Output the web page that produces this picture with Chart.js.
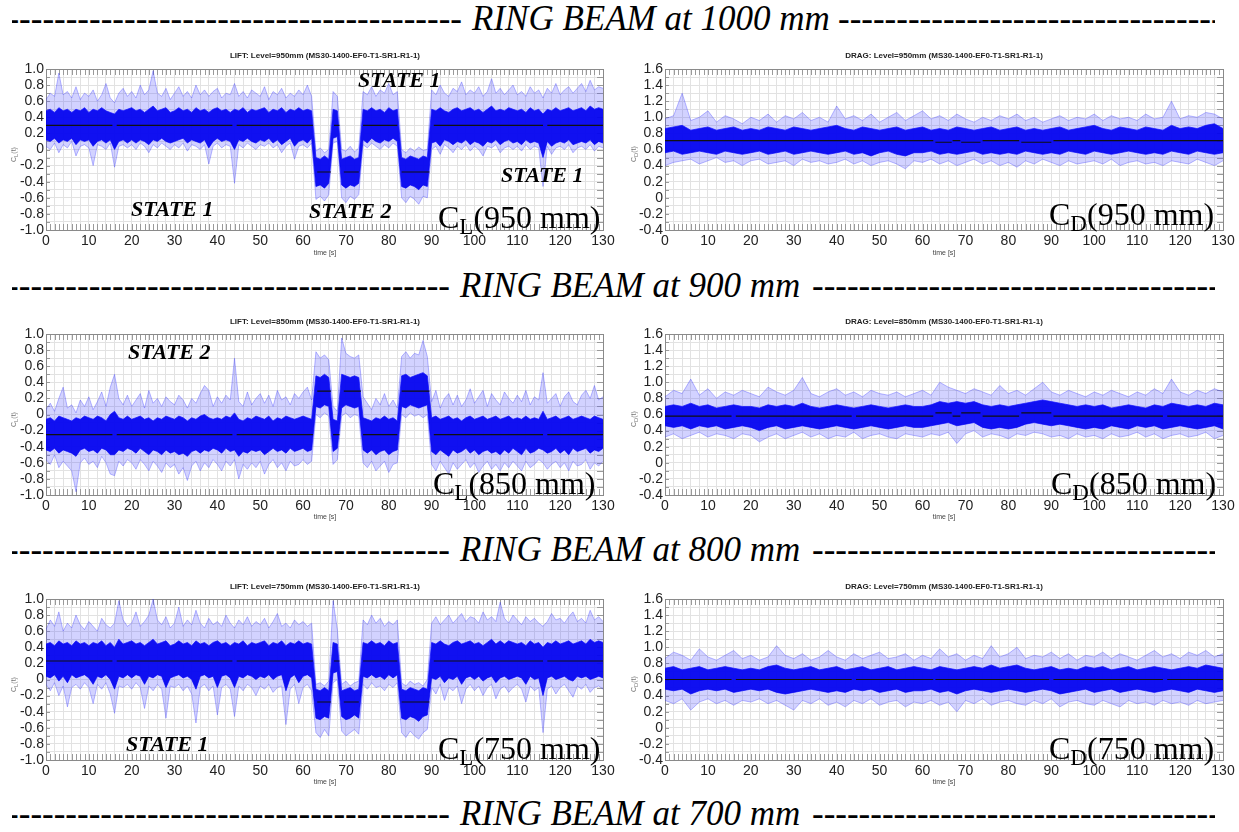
<!DOCTYPE html>
<html>
<head>
<meta charset="utf-8">
<script src="https://cdn.jsdelivr.net/npm/chart.js@4.4.1/dist/chart.umd.min.js"></script>
<style>
  html, body { margin: 0; padding: 0; background: #fff; }
  #page { position: relative; width: 1239px; height: 832px; overflow: hidden; }
  canvas { position: absolute; }
  .hdr { position: absolute; font: italic 35px "Liberation Serif", "Times New Roman", serif; line-height: 1; white-space: nowrap; color: #000; }
  .dash { position: absolute; overflow: hidden; white-space: nowrap; font: italic 35px "Liberation Serif", serif; line-height: 1; }
  .dash.l { direction: rtl; }
  .ttl { position: absolute; font: bold 8px "Liberation Sans", Arial, sans-serif; color: #222; white-space: nowrap; transform: translateX(-50%); line-height: 1; }
  .xt { position: absolute; font: 7px "Liberation Sans", Arial, sans-serif; color: #444; white-space: nowrap; transform: translateX(-50%); line-height: 1; }
  .yt { position: absolute; font: 7px "Liberation Sans", Arial, sans-serif; color: #777; white-space: nowrap; transform: rotate(-90deg); transform-origin: left top; line-height: 1; }
  .st { position: absolute; font: bold italic 22px "Liberation Serif", "Times New Roman", serif; line-height: 1; white-space: nowrap; }
  .cc { position: absolute; font: 32px "Liberation Serif", "Times New Roman", serif; line-height: 1; white-space: nowrap; }
  .cc sub { font-size: 0.72em; vertical-align: -0.28em; line-height: 0; }
</style>
</head>
<body>
<div id="page">
  <!-- section headers -->
  <div class="dash l" style="left:12px;top:1px;width:450px"></div>
  <div class="hdr" style="left:472px;top:1px">RING BEAM at 1000 mm</div>
  <div class="dash" style="left:838px;top:1px;width:377px"></div>

  <div class="dash l" style="left:12px;top:268px;width:438px"></div>
  <div class="hdr" style="left:460px;top:268px">RING BEAM at 900 mm</div>
  <div class="dash" style="left:812px;top:268px;width:403px"></div>

  <div class="dash l" style="left:12px;top:532px;width:438px"></div>
  <div class="hdr" style="left:460px;top:532px">RING BEAM at 800 mm</div>
  <div class="dash" style="left:812px;top:532px;width:403px"></div>

  <div class="dash l" style="left:12px;top:796px;width:438px"></div>
  <div class="hdr" style="left:460px;top:796px">RING BEAM at 700 mm</div>
  <div class="dash" style="left:812px;top:796px;width:403px"></div>

  <!-- row 1 -->
  <canvas id="cl950" width="620" height="210" style="left:0;top:50px"></canvas>
  <canvas id="cd950" width="620" height="210" style="left:620px;top:50px"></canvas>
  <!-- row 2 -->
  <canvas id="cl850" width="620" height="210" style="left:0;top:315px"></canvas>
  <canvas id="cd850" width="620" height="210" style="left:620px;top:315px"></canvas>
  <!-- row 3 -->
  <canvas id="cl750" width="620" height="210" style="left:0;top:580px"></canvas>
  <canvas id="cd750" width="620" height="210" style="left:620px;top:580px"></canvas>

  <div class="ttl" style="left:325px;top:52px">LIFT: Level=950mm (MS30-1400-EF0-T1-SR1-R1-1)</div>
  <div class="ttl" style="left:944px;top:52px">DRAG: Level=950mm (MS30-1400-EF0-T1-SR1-R1-1)</div>
  <div class="ttl" style="left:325px;top:318px">LIFT: Level=850mm (MS30-1400-EF0-T1-SR1-R1-1)</div>
  <div class="ttl" style="left:944px;top:318px">DRAG: Level=850mm (MS30-1400-EF0-T1-SR1-R1-1)</div>
  <div class="ttl" style="left:325px;top:583px">LIFT: Level=750mm (MS30-1400-EF0-T1-SR1-R1-1)</div>
  <div class="ttl" style="left:944px;top:583px">DRAG: Level=750mm (MS30-1400-EF0-T1-SR1-R1-1)</div>

  <div class="xt" style="left:325px;top:249px">time [s]</div>
  <div class="xt" style="left:944px;top:249px">time [s]</div>
  <div class="xt" style="left:325px;top:513px">time [s]</div>
  <div class="xt" style="left:944px;top:513px">time [s]</div>
  <div class="xt" style="left:325px;top:778px">time [s]</div>
  <div class="xt" style="left:944px;top:778px">time [s]</div>

  <div class="yt" style="left:10px;top:162px">C<sub>L</sub>(t)</div>
  <div class="yt" style="left:630px;top:162px">C<sub>D</sub>(t)</div>
  <div class="yt" style="left:10px;top:427px">C<sub>L</sub>(t)</div>
  <div class="yt" style="left:630px;top:427px">C<sub>D</sub>(t)</div>
  <div class="yt" style="left:10px;top:692px">C<sub>L</sub>(t)</div>
  <div class="yt" style="left:630px;top:692px">C<sub>D</sub>(t)</div>

  <div class="st" style="left:131px;top:198px">STATE 1</div>
  <div class="st" style="left:309px;top:200px">STATE 2</div>
  <div class="st" style="left:358px;top:69px">STATE 1</div>
  <div class="st" style="left:501px;top:164px">STATE 1</div>
  <div class="st" style="left:128px;top:341px">STATE 2</div>
  <div class="st" style="left:126px;top:733px">STATE 1</div>

  <div class="cc" style="left:438px;top:201px">C<sub>L</sub>(950 mm)</div>
  <div class="cc" style="left:1049px;top:198px">C<sub>D</sub>(950 mm)</div>
  <div class="cc" style="left:433px;top:467px">C<sub>L</sub>(850 mm)</div>
  <div class="cc" style="left:1051px;top:467px">C<sub>D</sub>(850 mm)</div>
  <div class="cc" style="left:438px;top:732px">C<sub>L</sub>(750 mm)</div>
  <div class="cc" style="left:1049px;top:732px">C<sub>D</sub>(750 mm)</div>
</div>

<script>
// time grids (s): lift read every 1 s, drag every 2 s
const T_LIFT = [];
for (let t = 0; t <= 130; t++) T_LIFT.push(t);
const T_DRAG = [];
for (let t = 0; t <= 130; t += 2) T_DRAG.push(t);

// ---- LIFT 950 mm: outer envelope, dense core, mean segments [start, end, value]
const L950_HI = [
  0.62,0.70,0.66,0.95,0.68,0.72,0.64,0.78,0.62,0.70,
  0.66,0.74,0.60,0.68,0.82,0.64,0.58,0.70,0.76,0.66,
  0.72,0.64,0.80,0.68,0.74,0.98,0.70,0.66,0.76,0.62,
  0.70,0.78,0.66,0.72,0.64,0.80,0.68,0.74,0.66,0.72,
  0.76,0.64,0.70,0.68,0.82,0.66,0.72,0.64,0.74,0.70,
  0.66,0.78,0.62,0.72,0.68,0.76,0.64,0.70,0.66,0.74,
  0.68,0.80,0.66,
  -0.02,0.02,-0.04,0.00,
  0.72,0.66,
  0.00,-0.02,0.04,-0.03,0.02,
  0.72,0.68,0.78,0.66,0.74,0.70,0.82,0.68,0.72,
  0.00,-0.04,0.02,-0.02,0.03,-0.01,0.00,
  0.74,0.68,0.80,0.70,0.66,0.76,0.72,0.84,0.68,0.74,
  0.70,0.78,0.66,0.72,0.88,0.70,0.76,0.68,0.74,0.80,
  0.68,0.72,0.66,0.78,0.70,0.74,0.64,0.76,0.70,0.82,
  0.68,0.74,0.78,0.70,0.76,0.82,0.72,0.86,0.74,0.78,
  0.76];
const L950_LO = [
  0.04,0.00,0.08,-0.04,0.06,0.02,0.10,-0.08,0.04,0.06,
  0.02,-0.20,0.06,0.04,0.00,0.08,-0.22,0.04,0.06,0.02,
  0.06,0.00,0.08,0.04,-0.04,0.06,0.02,0.08,0.04,0.00,
  0.06,0.02,0.08,-0.02,0.06,0.04,0.00,0.06,-0.18,0.04,
  0.08,0.02,0.06,0.04,-0.42,0.06,0.02,0.08,0.04,0.00,
  0.06,0.04,0.08,0.02,0.06,-0.04,0.04,0.08,-0.12,0.04,
  0.06,0.02,0.08,
  -0.62,-0.58,-0.64,-0.56,
  0.08,0.10,
  -0.60,-0.66,-0.58,-0.62,-0.56,
  0.06,0.02,0.08,0.04,0.00,0.06,0.02,0.08,0.04,
  -0.60,-0.66,-0.58,-0.62,-0.68,-0.58,-0.60,
  0.00,0.04,-0.06,0.06,0.02,-0.04,0.04,0.00,0.06,-0.02,
  0.04,0.00,-0.08,0.04,0.02,0.06,-0.04,0.02,0.04,0.00,
  0.04,-0.02,0.06,0.00,0.04,0.02,-0.46,0.04,-0.06,0.02,
  0.04,0.00,0.06,-0.04,0.02,0.04,0.00,0.06,-0.02,0.04,
  0.02];
const L950_CHI = [
  0.48,0.50,0.46,0.52,0.48,0.50,0.46,0.50,0.48,0.52,
  0.46,0.50,0.48,0.52,0.48,0.46,0.44,0.50,0.48,0.50,
  0.52,0.48,0.50,0.46,0.50,0.54,0.48,0.50,0.52,0.46,
  0.48,0.52,0.48,0.50,0.46,0.52,0.48,0.50,0.46,0.50,
  0.52,0.48,0.50,0.46,0.50,0.48,0.52,0.46,0.50,0.48,
  0.50,0.52,0.46,0.50,0.48,0.52,0.46,0.50,0.48,0.52,
  0.48,0.50,0.48,
  -0.10,-0.12,-0.08,-0.12,
  0.50,0.48,
  -0.12,-0.10,-0.08,-0.12,-0.10,
  0.50,0.48,0.52,0.48,0.50,0.46,0.52,0.48,0.50,
  -0.10,-0.12,-0.08,-0.10,-0.12,-0.08,-0.10,
  0.50,0.48,0.52,0.48,0.46,0.50,0.52,0.48,0.50,0.52,
  0.48,0.50,0.46,0.50,0.54,0.48,0.50,0.48,0.52,0.50,
  0.48,0.50,0.46,0.52,0.48,0.50,0.44,0.50,0.48,0.52,
  0.48,0.50,0.52,0.48,0.50,0.52,0.48,0.54,0.50,0.52,
  0.50];
const L950_CLO = [
  0.12,0.10,0.14,0.08,0.12,0.10,0.14,0.06,0.12,0.10,
  0.12,0.04,0.10,0.12,0.08,0.12,0.00,0.10,0.12,0.08,
  0.12,0.08,0.12,0.10,0.06,0.12,0.10,0.14,0.10,0.08,
  0.10,0.12,0.14,0.08,0.12,0.10,0.08,0.12,0.02,0.10,
  0.14,0.10,0.12,0.10,0.00,0.12,0.10,0.14,0.10,0.08,
  0.12,0.10,0.14,0.08,0.12,0.06,0.10,0.14,0.04,0.10,
  0.12,0.08,0.14,
  -0.46,-0.44,-0.48,-0.42,
  0.14,0.16,
  -0.44,-0.48,-0.44,-0.46,-0.42,
  0.12,0.08,0.14,0.10,0.08,0.12,0.10,0.14,0.10,
  -0.46,-0.48,-0.44,-0.46,-0.50,-0.44,-0.46,
  0.08,0.10,0.04,0.12,0.10,0.06,0.10,0.08,0.12,0.06,
  0.10,0.08,0.04,0.10,0.08,0.12,0.06,0.10,0.12,0.08,
  0.10,0.06,0.12,0.08,0.10,0.08,-0.10,0.10,0.04,0.08,
  0.10,0.08,0.12,0.06,0.08,0.10,0.08,0.12,0.06,0.10,
  0.08];
const L950_MEAN = [[0,15.5,0.30],[16.5,43.5,0.30],[44.5,62.3,0.30],[63.3,66.5,-0.28],[67.2,68.5,0.30],
  [69.5,73,-0.28],[74,82,0.30],[83,89.5,-0.28],[90.5,116,0.30],[117,130,0.30]];

// ---- LIFT 850 mm
const L850_HI = [
  0.06,0.14,0.04,0.20,0.34,0.08,0.12,0.02,0.18,0.10,
  0.22,0.06,0.16,0.28,0.10,0.34,0.50,0.20,0.12,0.24,
  0.10,0.18,0.26,0.08,0.30,0.14,0.20,0.10,0.22,0.16,
  0.12,0.24,0.18,0.08,0.20,0.14,0.26,0.36,0.30,0.10,
  0.22,0.14,0.24,0.18,0.70,0.16,0.10,0.28,0.12,0.20,
  0.26,0.14,0.24,0.10,0.30,0.18,0.22,0.12,0.26,0.20,
  0.28,0.34,0.18,
  0.78,0.70,0.74,0.68,
  0.10,0.04,
  0.95,0.76,0.72,0.70,0.74,
  0.22,0.14,0.06,0.20,0.12,0.26,0.10,0.18,0.08,
  0.72,0.78,0.70,0.76,0.74,0.92,0.72,
  0.16,0.30,0.08,0.20,0.26,0.12,0.24,0.10,0.18,0.32,
  0.14,0.22,0.30,0.10,0.26,0.18,0.12,0.28,0.20,0.14,
  0.24,0.16,0.30,0.12,0.22,0.18,0.52,0.14,0.20,0.26,
  0.10,0.22,0.28,0.16,0.12,0.24,0.30,0.20,0.36,0.18,
  0.22];
const L850_LO = [
  -0.56,-0.62,-0.50,-0.66,-0.58,-0.64,-0.70,-0.96,-0.60,-0.54,
  -0.62,-0.58,-0.66,-0.52,-0.60,-0.74,-0.76,-0.58,-0.64,-0.56,
  -0.60,-0.68,-0.56,-0.62,-0.70,-0.58,-0.64,-0.72,-0.60,-0.66,
  -0.62,-0.74,-0.66,-0.82,-0.64,-0.58,-0.70,-0.60,-0.66,-0.56,
  -0.62,-0.70,-0.58,-0.64,-0.56,-0.80,-0.62,-0.68,-0.60,-0.66,
  -0.58,-0.74,-0.62,-0.56,-0.66,-0.60,-0.70,-0.58,-0.64,-0.62,
  -0.56,-0.62,-0.58,
  0.00,-0.04,0.02,-0.02,
  -0.62,-0.56,
  -0.02,0.02,-0.04,0.00,-0.02,
  -0.60,-0.66,-0.58,-0.70,-0.64,-0.58,-0.72,-0.62,-0.60,
  0.00,-0.04,0.02,-0.02,0.00,-0.04,0.00,
  -0.62,-0.70,-0.58,-0.66,-0.74,-0.60,-0.68,-0.62,-0.56,-0.66,
  -0.60,-0.72,-0.64,-0.58,-0.68,-0.62,-0.70,-0.60,-0.66,-0.58,
  -0.64,-0.70,-0.58,-0.66,-0.62,-0.56,-0.60,-0.68,-0.62,-0.58,
  -0.66,-0.60,-0.70,-0.58,-0.64,-0.62,-0.56,-0.68,-0.60,-0.64,
  -0.58];
const L850_CHI = [
  -0.06,-0.04,-0.08,-0.02,-0.04,-0.06,-0.08,-0.04,-0.06,-0.02,
  -0.04,-0.06,-0.02,-0.04,-0.08,0.00,0.04,-0.04,-0.06,-0.02,
  -0.06,-0.04,-0.02,-0.06,-0.04,-0.08,-0.04,-0.06,-0.02,-0.04,
  -0.06,-0.02,-0.04,-0.08,-0.04,-0.06,-0.02,0.00,-0.04,-0.06,
  -0.04,-0.06,-0.02,-0.04,0.02,-0.06,-0.08,-0.04,-0.06,-0.02,
  -0.04,-0.06,-0.02,-0.08,-0.04,-0.06,-0.02,-0.04,-0.06,-0.04,
  -0.02,-0.04,-0.06,
  0.48,0.46,0.50,0.46,
  -0.06,-0.08,
  0.50,0.48,0.46,0.48,0.46,
  -0.04,-0.06,-0.08,-0.04,-0.06,-0.02,-0.06,-0.04,-0.08,
  0.48,0.50,0.46,0.48,0.50,0.52,0.48,
  -0.04,-0.02,-0.06,-0.04,-0.02,-0.06,-0.04,-0.08,-0.04,-0.02,
  -0.06,-0.04,-0.02,-0.06,-0.04,-0.02,-0.06,-0.04,-0.02,-0.06,
  -0.04,-0.06,-0.02,-0.06,-0.04,-0.06,0.04,-0.06,-0.04,-0.02,
  -0.06,-0.04,-0.02,-0.06,-0.04,-0.02,-0.04,-0.06,-0.02,-0.04,
  -0.06];
const L850_CLO = [
  -0.44,-0.46,-0.42,-0.48,-0.44,-0.46,-0.48,-0.52,-0.44,-0.42,
  -0.46,-0.44,-0.48,-0.42,-0.44,-0.50,-0.50,-0.44,-0.46,-0.42,
  -0.44,-0.48,-0.42,-0.46,-0.50,-0.44,-0.46,-0.50,-0.44,-0.48,
  -0.46,-0.50,-0.48,-0.52,-0.46,-0.44,-0.48,-0.44,-0.46,-0.42,
  -0.44,-0.48,-0.42,-0.46,-0.44,-0.52,-0.46,-0.48,-0.44,-0.46,
  -0.44,-0.50,-0.46,-0.42,-0.46,-0.44,-0.48,-0.42,-0.46,-0.44,
  -0.42,-0.46,-0.44,
  0.10,0.08,0.12,0.10,
  -0.46,-0.42,
  0.08,0.12,0.10,0.08,0.10,
  -0.44,-0.48,-0.44,-0.50,-0.46,-0.44,-0.50,-0.46,-0.44,
  0.10,0.08,0.12,0.10,0.08,0.10,0.12,
  -0.46,-0.50,-0.44,-0.48,-0.52,-0.44,-0.48,-0.46,-0.42,-0.48,
  -0.44,-0.50,-0.46,-0.44,-0.48,-0.46,-0.50,-0.44,-0.48,-0.42,
  -0.46,-0.50,-0.42,-0.48,-0.46,-0.42,-0.44,-0.48,-0.46,-0.42,
  -0.48,-0.44,-0.50,-0.42,-0.46,-0.44,-0.42,-0.48,-0.44,-0.46,
  -0.42];
const L850_MEAN = [[0,15.5,-0.25],[16.5,43.5,-0.25],[44.5,62.3,-0.25],[63.3,66.5,0.29],[67,68.5,-0.25],
  [69.5,73.5,0.29],[74,82,-0.25],[83,89.5,0.29],[90.5,116,-0.25],[117,130,-0.25]];

// ---- LIFT 750 mm
const L750_HI = [
  0.62,0.74,0.66,0.84,0.60,0.70,0.64,0.80,0.68,0.62,
  0.72,0.66,0.60,0.76,0.68,0.64,0.70,0.98,0.74,0.66,
  0.70,0.84,0.66,0.72,0.80,1.00,0.74,0.68,0.78,0.64,
  0.70,0.90,0.66,0.74,0.68,0.86,0.70,0.64,0.76,0.68,
  0.72,0.66,0.80,0.70,0.64,0.74,0.68,0.78,0.66,0.72,
  0.68,0.76,0.64,0.72,0.82,0.66,0.70,0.64,0.74,0.68,
  0.72,0.66,0.70,
  -0.06,-0.04,-0.08,-0.02,
  0.98,0.62,
  -0.06,-0.02,-0.08,-0.04,-0.02,
  0.74,0.68,0.80,0.70,0.76,0.66,0.72,0.68,0.74,
  -0.04,-0.08,-0.02,-0.06,-0.04,-0.08,0.00,
  0.70,0.78,0.68,0.74,0.80,0.70,0.76,0.82,0.72,0.78,
  0.76,0.70,0.84,0.74,0.78,0.72,0.96,0.76,0.70,0.80,
  0.74,0.68,0.78,0.72,0.76,0.70,0.66,0.72,0.82,0.74,
  0.76,0.70,0.78,0.84,0.72,0.76,0.70,0.86,0.74,0.78,
  0.72];
const L750_LO = [
  -0.06,-0.14,-0.04,-0.20,-0.08,-0.34,-0.10,-0.06,-0.12,-0.04,
  -0.10,-0.30,-0.06,-0.12,-0.04,-0.18,-0.42,-0.08,-0.10,-0.06,
  -0.12,-0.04,-0.10,-0.36,-0.08,-0.14,-0.06,-0.12,-0.48,-0.08,
  -0.10,-0.06,-0.14,-0.08,-0.18,-0.54,-0.10,-0.06,-0.14,-0.08,
  -0.44,-0.10,-0.06,-0.12,-0.46,-0.08,-0.14,-0.06,-0.10,-0.20,
  -0.08,-0.12,-0.06,-0.16,-0.10,-0.08,-0.56,-0.12,-0.06,-0.30,
  -0.10,-0.06,-0.14,
  -0.66,-0.72,-0.62,-0.70,
  -0.04,0.00,
  -0.64,-0.70,-0.66,-0.62,-0.68,
  -0.06,-0.12,-0.04,-0.10,-0.08,-0.14,-0.06,-0.10,-0.04,
  -0.66,-0.72,-0.64,-0.70,-0.74,-0.66,-0.62,
  -0.10,-0.18,-0.06,-0.26,-0.10,-0.14,-0.08,-0.30,-0.12,-0.06,
  -0.14,-0.08,-0.20,-0.10,-0.06,-0.24,-0.12,-0.08,-0.16,-0.10,
  -0.06,-0.12,-0.28,-0.08,-0.14,-0.10,-0.66,-0.12,-0.08,-0.18,
  -0.10,-0.06,-0.14,-0.22,-0.08,-0.12,-0.06,-0.16,-0.10,-0.08,
  -0.12];
const L750_CHI = [
  0.44,0.46,0.42,0.48,0.44,0.46,0.42,0.48,0.44,0.46,
  0.42,0.46,0.44,0.48,0.42,0.46,0.40,0.50,0.44,0.46,
  0.48,0.44,0.46,0.42,0.46,0.50,0.44,0.46,0.48,0.42,
  0.44,0.48,0.44,0.46,0.42,0.48,0.44,0.46,0.42,0.46,
  0.48,0.44,0.46,0.42,0.46,0.44,0.48,0.42,0.46,0.44,
  0.46,0.48,0.42,0.46,0.44,0.48,0.42,0.46,0.44,0.48,
  0.44,0.46,0.44,
  -0.12,-0.14,-0.10,-0.14,
  0.46,0.44,
  -0.14,-0.12,-0.10,-0.14,-0.12,
  0.46,0.44,0.48,0.44,0.46,0.42,0.48,0.44,0.46,
  -0.12,-0.14,-0.10,-0.12,-0.14,-0.10,-0.12,
  0.46,0.44,0.48,0.44,0.42,0.46,0.48,0.44,0.46,0.48,
  0.44,0.46,0.42,0.46,0.50,0.44,0.48,0.44,0.48,0.46,
  0.44,0.46,0.42,0.48,0.44,0.46,0.40,0.46,0.44,0.48,
  0.44,0.46,0.48,0.44,0.46,0.48,0.44,0.50,0.46,0.48,
  0.46];
const L750_CLO = [
  0.04,0.02,0.06,-0.02,0.04,-0.04,0.06,0.02,0.04,0.06,
  0.02,-0.06,0.04,0.02,0.06,0.00,-0.12,0.04,0.02,0.06,
  0.02,0.06,0.04,-0.06,0.04,0.02,0.06,0.04,-0.10,0.02,
  0.04,0.06,0.02,0.04,0.00,-0.12,0.04,0.06,0.02,0.04,
  -0.10,0.04,0.06,0.02,-0.10,0.04,0.02,0.06,0.04,0.00,
  0.04,0.02,0.06,0.00,0.04,0.06,-0.14,0.02,0.06,-0.04,
  0.04,0.06,0.02,
  -0.48,-0.50,-0.46,-0.48,
  0.08,0.10,
  -0.46,-0.50,-0.48,-0.44,-0.48,
  0.04,0.02,0.06,0.02,0.04,0.00,0.06,0.02,0.06,
  -0.48,-0.50,-0.46,-0.48,-0.52,-0.46,-0.44,
  0.02,0.00,0.04,-0.04,0.02,0.00,0.04,-0.06,0.02,0.04,
  0.00,0.04,-0.02,0.02,0.04,-0.04,0.02,0.04,0.00,0.02,
  0.04,0.02,-0.06,0.04,0.00,0.02,-0.20,0.02,0.04,0.00,
  0.02,0.04,0.00,-0.02,0.04,0.02,0.04,0.00,0.02,0.04,
  0.02];
const L750_MEAN = [[0,15.5,0.23],[16.5,43.5,0.23],[44.5,62.3,0.23],[63.3,66.5,-0.28],[67.2,68.5,0.23],
  [69.5,73,-0.28],[74,82,0.23],[83,89.5,-0.28],[90.5,116,0.23],[117,130,0.23]];

// ---- DRAG 950 mm (every 2 s)
const D950_HI = [
  0.98,1.02,1.30,0.96,1.00,1.08,0.94,1.02,0.98,0.92,
  1.00,0.96,1.04,0.94,1.02,0.98,1.06,0.96,1.00,0.94,
  1.14,0.98,1.02,0.96,1.04,0.94,1.00,1.06,0.96,1.02,
  1.08,0.98,1.02,0.96,1.04,0.98,0.94,1.00,0.96,1.02,
  0.98,1.04,0.96,1.00,0.94,0.98,1.02,0.96,1.00,0.98,
  1.04,0.96,1.02,0.98,1.00,0.96,1.04,0.98,1.00,1.20,
  0.98,1.02,1.00,1.06,1.04,0.98];
const D950_LO = [
  0.40,0.44,0.46,0.48,0.42,0.46,0.50,0.44,0.46,0.40,
  0.46,0.48,0.42,0.44,0.46,0.40,0.48,0.44,0.46,0.42,
  0.44,0.48,0.42,0.46,0.40,0.44,0.46,0.42,0.36,0.46,
  0.44,0.48,0.42,0.46,0.40,0.44,0.48,0.42,0.46,0.40,
  0.44,0.38,0.46,0.42,0.48,0.44,0.40,0.46,0.42,0.44,
  0.46,0.42,0.48,0.40,0.44,0.46,0.42,0.44,0.40,0.46,
  0.44,0.42,0.48,0.44,0.40,0.46];
const D950_CHI = [
  0.86,0.88,0.90,0.84,0.86,0.88,0.84,0.86,0.88,0.84,
  0.86,0.84,0.88,0.86,0.84,0.88,0.86,0.84,0.86,0.88,
  0.90,0.86,0.84,0.88,0.86,0.84,0.86,0.88,0.84,0.86,
  0.88,0.84,0.86,0.84,0.88,0.86,0.84,0.86,0.88,0.84,
  0.86,0.88,0.84,0.86,0.84,0.86,0.88,0.84,0.86,0.88,
  0.90,0.86,0.84,0.88,0.86,0.84,0.88,0.86,0.84,0.90,
  0.86,0.88,0.86,0.90,0.92,0.86];
const D950_CLO = [
  0.56,0.58,0.54,0.56,0.58,0.56,0.54,0.58,0.56,0.54,
  0.56,0.58,0.54,0.56,0.58,0.54,0.56,0.58,0.56,0.54,
  0.56,0.58,0.54,0.56,0.52,0.56,0.58,0.54,0.52,0.56,
  0.56,0.58,0.54,0.56,0.54,0.56,0.58,0.54,0.56,0.54,
  0.56,0.54,0.58,0.56,0.54,0.56,0.54,0.58,0.56,0.54,
  0.58,0.56,0.54,0.56,0.58,0.56,0.54,0.56,0.54,0.58,
  0.56,0.54,0.58,0.56,0.54,0.56];
const D950_MEAN = [[0,62.5,0.71],[63,66.8,0.69],[67,68.8,0.71],[69,73.5,0.69],[74,82.5,0.71],
  [83,90,0.69],[90.5,130,0.71]];

// ---- DRAG 850 mm
const D850_HI = [
  0.82,0.90,0.86,1.04,0.84,0.92,0.80,0.88,0.84,0.90,
  0.86,0.82,0.94,0.88,0.84,0.90,1.06,0.86,0.82,0.88,
  0.92,0.84,0.88,0.82,0.90,0.86,0.84,0.88,0.82,0.86,
  0.90,0.84,1.00,0.94,0.90,0.86,0.92,0.88,0.84,0.96,
  0.86,0.90,0.84,0.92,1.00,0.88,0.84,0.90,0.86,0.82,
  0.88,0.84,0.90,0.86,0.82,0.88,0.84,0.92,0.86,1.04,
  0.88,0.84,0.90,0.86,0.92,0.88];
const D850_LO = [
  0.32,0.36,0.30,0.34,0.38,0.32,0.36,0.34,0.30,0.36,
  0.34,0.26,0.32,0.36,0.30,0.34,0.38,0.32,0.36,0.30,
  0.34,0.32,0.38,0.30,0.34,0.36,0.32,0.30,0.36,0.34,
  0.32,0.36,0.34,0.38,0.24,0.36,0.40,0.32,0.36,0.34,
  0.30,0.36,0.34,0.38,0.36,0.32,0.34,0.30,0.36,0.32,
  0.34,0.30,0.36,0.32,0.34,0.38,0.32,0.36,0.30,0.34,
  0.36,0.32,0.34,0.38,0.30,0.34];
const D850_CHI = [
  0.70,0.72,0.70,0.74,0.70,0.72,0.68,0.70,0.72,0.70,
  0.70,0.68,0.72,0.70,0.72,0.70,0.74,0.70,0.68,0.70,
  0.72,0.70,0.68,0.70,0.72,0.70,0.68,0.70,0.72,0.70,
  0.70,0.72,0.76,0.74,0.76,0.74,0.76,0.72,0.70,0.72,
  0.70,0.72,0.74,0.76,0.78,0.76,0.74,0.72,0.70,0.72,
  0.70,0.72,0.68,0.70,0.72,0.70,0.68,0.72,0.70,0.74,
  0.72,0.70,0.72,0.70,0.74,0.72];
const D850_CLO = [
  0.46,0.44,0.46,0.42,0.46,0.44,0.46,0.42,0.44,0.46,
  0.44,0.40,0.44,0.46,0.42,0.44,0.46,0.44,0.42,0.44,
  0.46,0.44,0.42,0.44,0.46,0.44,0.42,0.44,0.46,0.44,
  0.44,0.46,0.48,0.50,0.46,0.48,0.50,0.44,0.42,0.44,
  0.42,0.44,0.48,0.50,0.48,0.46,0.48,0.46,0.44,0.42,
  0.44,0.42,0.46,0.44,0.42,0.46,0.44,0.46,0.42,0.44,
  0.46,0.44,0.42,0.44,0.46,0.42];
const D850_MEAN = [[0,15.5,0.58],[16.5,43.5,0.58],[44.5,62.5,0.58],[63,66.8,0.62],[67,68.8,0.58],
  [69,73.5,0.62],[74,82.5,0.58],[83,90,0.62],[90.5,116,0.58],[117,130,0.58]];

// ---- DRAG 750 mm
const D750_HI = [
  0.86,0.94,0.90,0.84,0.98,0.88,0.84,0.90,0.96,0.86,
  0.90,0.84,0.88,1.02,0.90,0.86,0.92,0.84,0.88,0.96,
  0.88,0.84,0.92,0.86,0.90,0.94,0.86,0.88,0.92,0.84,
  0.90,0.86,0.98,0.88,0.92,0.84,0.90,0.86,1.02,0.88,
  0.92,1.00,0.86,0.90,0.88,0.94,0.86,0.92,0.84,0.90,
  0.88,0.94,0.86,0.92,0.88,0.84,0.90,0.96,0.88,0.92,
  0.86,0.94,0.90,0.96,0.88,0.92];
const D750_LO = [
  0.34,0.30,0.36,0.22,0.32,0.36,0.30,0.34,0.28,0.34,
  0.32,0.36,0.30,0.34,0.28,0.22,0.34,0.30,0.36,0.28,
  0.32,0.26,0.34,0.30,0.36,0.28,0.32,0.34,0.26,0.32,
  0.30,0.34,0.28,0.32,0.20,0.34,0.30,0.36,0.28,0.32,
  0.34,0.30,0.28,0.34,0.30,0.36,0.26,0.32,0.34,0.30,
  0.28,0.34,0.30,0.26,0.34,0.30,0.32,0.28,0.34,0.30,
  0.32,0.28,0.34,0.30,0.32,0.34];
const D750_CHI = [
  0.74,0.76,0.72,0.74,0.76,0.72,0.74,0.76,0.74,0.72,
  0.74,0.72,0.76,0.78,0.74,0.72,0.74,0.76,0.72,0.74,
  0.76,0.72,0.74,0.76,0.72,0.74,0.76,0.72,0.74,0.76,
  0.74,0.72,0.76,0.74,0.72,0.74,0.76,0.74,0.78,0.74,
  0.76,0.78,0.74,0.72,0.74,0.76,0.72,0.74,0.72,0.76,
  0.74,0.76,0.72,0.74,0.76,0.72,0.74,0.76,0.74,0.72,
  0.74,0.76,0.74,0.78,0.76,0.74];
const D750_CLO = [
  0.48,0.46,0.48,0.42,0.46,0.48,0.46,0.48,0.44,0.46,
  0.48,0.46,0.48,0.44,0.42,0.44,0.46,0.48,0.46,0.44,
  0.46,0.44,0.48,0.46,0.48,0.44,0.46,0.48,0.44,0.46,
  0.46,0.48,0.44,0.46,0.42,0.46,0.48,0.46,0.44,0.46,
  0.48,0.46,0.44,0.46,0.48,0.46,0.42,0.44,0.46,0.48,
  0.44,0.46,0.48,0.44,0.46,0.48,0.46,0.44,0.46,0.48,
  0.46,0.44,0.48,0.46,0.44,0.46];
const D750_MEAN = [[0,15.5,0.60],[16.5,43.5,0.60],[44.5,62.5,0.60],[63,89.5,0.60],[90.5,116,0.60],[117,130,0.60]];

const FONT = '"Liberation Sans", Arial, sans-serif';

// grey frame with small inner ticks on all four sides
const frameTicks = {
  id: 'frameTicks',
  beforeDatasetsDraw(chart) {
    const { ctx, chartArea: a, scales: { x, y } } = chart;
    ctx.save();
    ctx.strokeStyle = '#9a9a9a';
    ctx.lineWidth = 1;
    ctx.beginPath();
    for (let t = 0; t <= 130; t++) {
      const px = Math.round(x.getPixelForValue(t)) + 0.5;
      ctx.moveTo(px, a.top); ctx.lineTo(px, a.top + 6);
      ctx.moveTo(px, a.bottom); ctx.lineTo(px, a.bottom - 6);
    }
    for (let k = Math.round(y.min * 10); k <= Math.round(y.max * 10); k++) {
      const py = Math.round(y.getPixelForValue(k / 10)) + 0.5;
      ctx.moveTo(a.right, py); ctx.lineTo(a.right - 6, py);
      ctx.moveTo(a.left, py); ctx.lineTo(a.left + 4, py);
    }
    ctx.stroke();
    ctx.strokeStyle = '#8a8a8a';
    ctx.strokeRect(Math.round(a.left) + 0.5, Math.round(a.top) + 0.5, Math.round(a.right - a.left), Math.round(a.bottom - a.top));
    ctx.restore();
  }
};

function panel(id, t, hi, lo, chi, clo, mean, yMin, yMax, yW) {
  const xy = arr => arr.map((v, i) => ({ x: t[i], y: v }));
  const meanPts = [];
  mean.forEach(([a, b, v]) => meanPts.push({ x: a, y: v }, { x: b, y: v }, { x: b, y: null }));
  new Chart(document.getElementById(id), {
    type: 'line',
    data: {
      datasets: [
        { data: meanPts, borderColor: '#111', borderWidth: 1.1, spanGaps: false },
        { data: xy(chi), borderColor: 'rgba(20,20,255,0.75)', borderWidth: 1, fill: '+1', backgroundColor: 'rgba(0,0,240,0.92)' },
        { data: xy(clo), borderColor: 'rgba(20,20,255,0.75)', borderWidth: 1 },
        { data: xy(hi), borderColor: 'rgba(40,40,255,0.4)', borderWidth: 0.8, fill: '+1', backgroundColor: 'rgba(80,80,255,0.26)' },
        { data: xy(lo), borderColor: 'rgba(40,40,255,0.4)', borderWidth: 0.8 },
      ]
    },
    options: {
      responsive: false, animation: false, events: [],
      layout: { padding: { top: 19, right: 17, bottom: 0, left: 0 } },
      plugins: { legend: { display: false }, tooltip: { enabled: false } },
      elements: { point: { radius: 0 }, line: { tension: 0 } },
      scales: {
        x: {
          type: 'linear', min: 0, max: 130,
          afterFit: s => { s.height = 30; },
          ticks: { stepSize: 2, autoSkip: false, maxRotation: 0, padding: 3, color: '#222', font: { family: FONT, size: 14 },
            callback: v => (v % 10 === 0 ? String(v) : '') },
          grid: { color: '#e2e2e2', drawTicks: false },
          border: { color: '#8a8a8a' }
        },
        y: {
          min: yMin, max: yMax,
          afterFit: s => { s.width = yW; },
          ticks: { stepSize: 0.1, autoSkip: false, padding: 2, color: '#222', font: { family: FONT, size: 14 },
            callback: v => { const k = Math.round(v * 10); return k % 2 === 0 ? (k === 0 ? '0' : (k / 10).toFixed(1)) : ''; } },
          grid: { color: '#e2e2e2', drawTicks: false },
          border: { color: '#8a8a8a' }
        }
      }
    },
    plugins: [frameTicks]
  });
}

panel('cl950', T_LIFT, L950_HI, L950_LO, L950_CHI, L950_CLO, L950_MEAN, -1, 1, 46);
panel('cl850', T_LIFT, L850_HI, L850_LO, L850_CHI, L850_CLO, L850_MEAN, -1, 1, 46);
panel('cl750', T_LIFT, L750_HI, L750_LO, L750_CHI, L750_CLO, L750_MEAN, -1, 1, 46);
panel('cd950', T_DRAG, D950_HI, D950_LO, D950_CHI, D950_CLO, D950_MEAN, -0.4, 1.6, 45);
panel('cd850', T_DRAG, D850_HI, D850_LO, D850_CHI, D850_CLO, D850_MEAN, -0.4, 1.6, 45);
panel('cd750', T_DRAG, D750_HI, D750_LO, D750_CHI, D750_CLO, D750_MEAN, -0.4, 1.6, 45);

// dash runs of the section headers
document.querySelectorAll('.dash').forEach(d => { d.textContent = '-'.repeat(60); });
</script>
</body>
</html>
